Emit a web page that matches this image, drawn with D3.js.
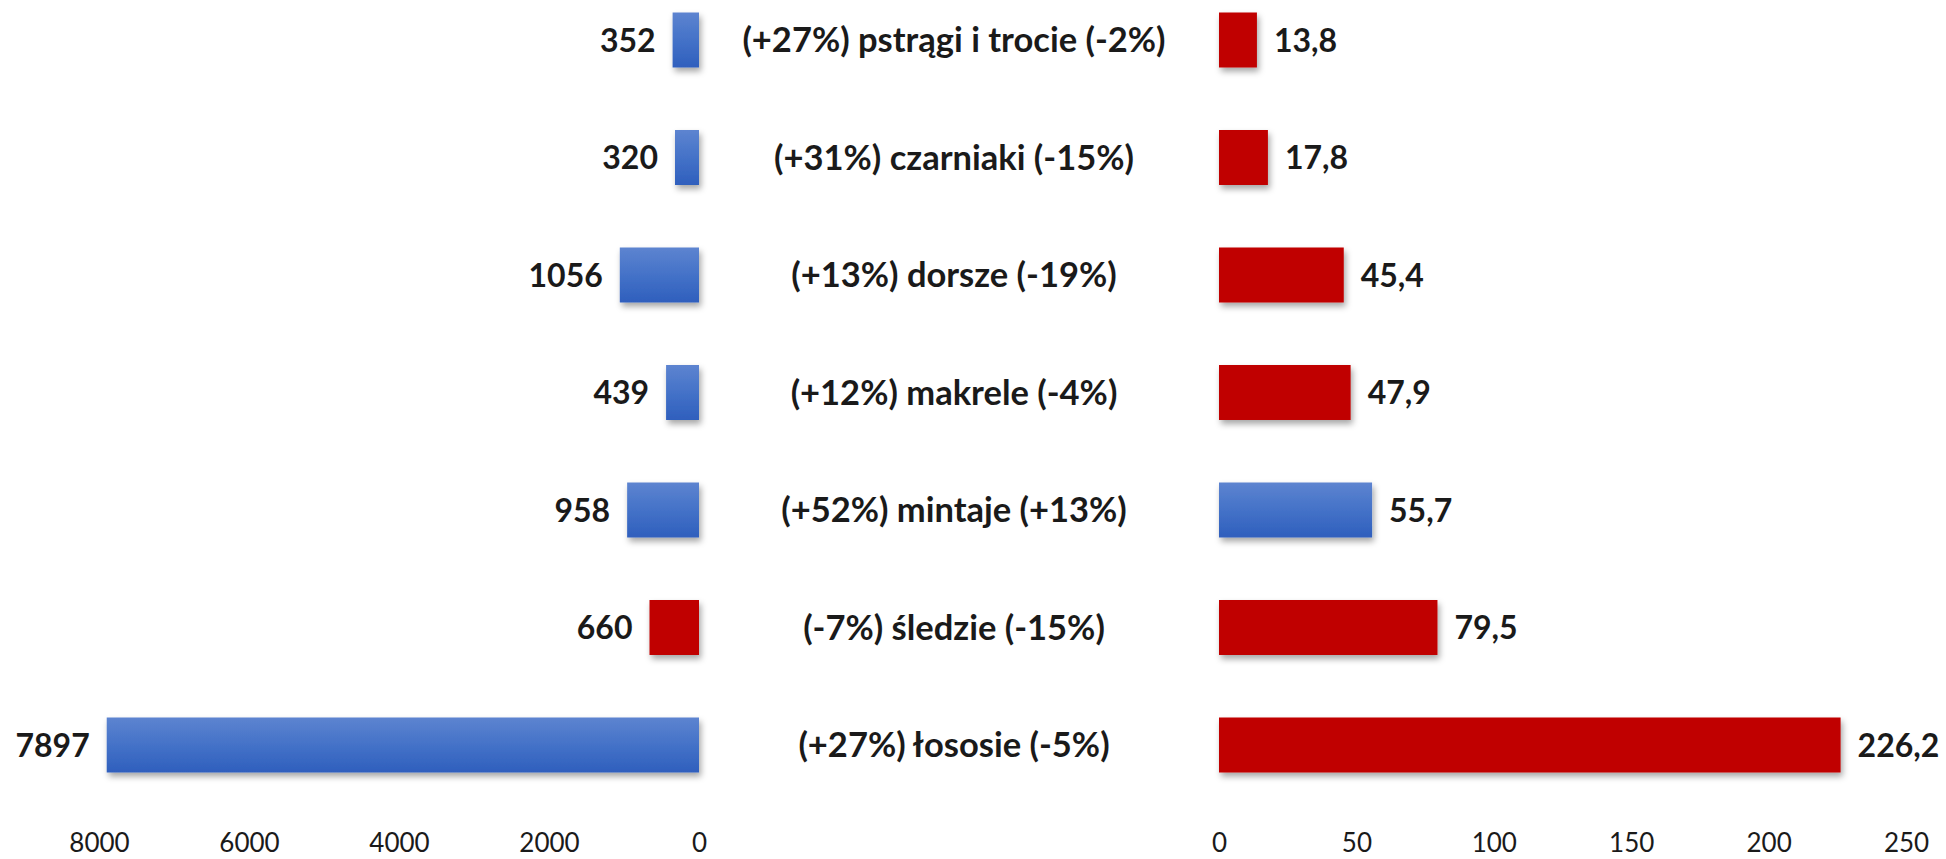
<!DOCTYPE html>
<html>
<head>
<meta charset="utf-8">
<script src="https://cdn.jsdelivr.net/npm/d3@7"></script>
<style>
  body { margin: 0; background: #fff; }
  svg { display: block; font-family: Lato, "Open Sans", sans-serif; }
  .axis .domain { display: none; }
  .axis text { font-size: 26px; fill: #1a1a1a; font-family: Lato, sans-serif; }
</style>
</head>
<body>
<svg id="chart"></svg>
<script>
// fish species, top to bottom
const categories = ["pstrągi i trocie", "czarniaki", "dorsze", "makrele", "mintaje", "śledzie", "łososie"];
// left: volume (tonnes), change in %
const volume = [352, 320, 1056, 439, 958, 660, 7897];
const volumeChange = [27, 31, 13, 12, 52, -7, 27];
// right: value (mln), change in %
const value = [13.8, 17.8, 45.4, 47.9, 55.7, 79.5, 226.2];
const valueChange = [-2, -15, -19, -4, 13, -15, -5];

const leftTicks = [8000, 6000, 4000, 2000, 0];
const rightTicks = [0, 50, 100, 150, 200, 250];

const W = 1946, H = 859;

var svg = d3.select("#chart")
  .attr("width", W)
  .attr("height", H);

var defs = svg.append("defs");

var grad = defs.append("linearGradient")
  .attr("id", "blueGrad")
  .attr("x1", 0).attr("y1", 0).attr("x2", 0).attr("y2", 1);
grad.append("stop").attr("offset", "0%").attr("stop-color", "#5d84d0");
grad.append("stop").attr("offset", "50%").attr("stop-color", "#4472c8");
grad.append("stop").attr("offset", "100%").attr("stop-color", "#2f5fbd");

var shadow = defs.append("filter")
  .attr("id", "shadow")
  .attr("x", "-10%").attr("y", "-20%").attr("width", "130%").attr("height", "160%");
shadow.append("feDropShadow")
  .attr("dx", 2).attr("dy", 4)
  .attr("stdDeviation", 3)
  .attr("flood-color", "#000")
  .attr("flood-opacity", 0.35);

// rows
var step = 117.5, firstTop = 12.5;
var y = d3.scaleBand()
  .domain(d3.range(categories.length))
  .paddingInner(0.532)
  .paddingOuter(0.266);
y.range([firstTop - step * 0.266, firstTop - step * 0.266 + step * categories.length]);

var xL = d3.scaleLinear().domain([0, 8000]).range([699, 99]);
var xR = d3.scaleLinear().domain([0, 250]).range([1219, 1906]);

var colorOf = c => c >= 0 ? "url(#blueGrad)" : "#c00000";
var fmt = v => d3.format(".1f")(v).replace(".", ",");
var pct = c => (c > 0 ? "+" : "") + c + "%";

var rows = categories.map((c, i) => ({
  i: i, name: c,
  vol: volume[i], volCh: volumeChange[i],
  val: value[i], valCh: valueChange[i]
}));

var bars = svg.append("g").attr("filter", "url(#shadow)");

bars.selectAll(".barL")
  .data(rows)
  .enter()
  .append("rect")
  .attr("class", "barL")
  .attr("x", d => xL(d.vol))
  .attr("y", d => y(d.i))
  .attr("width", d => xL(0) - xL(d.vol))
  .attr("height", y.bandwidth())
  .attr("fill", d => colorOf(d.volCh));

bars.selectAll(".barR")
  .data(rows)
  .enter()
  .append("rect")
  .attr("class", "barR")
  .attr("x", xR(0))
  .attr("y", d => y(d.i))
  .attr("width", d => xR(d.val) - xR(0))
  .attr("height", y.bandwidth())
  .attr("fill", d => colorOf(d.valCh));

var labels = svg.append("g")
  .style("font-weight", "bold")
  .style("font-size", "32px")
  .attr("fill", "#1a1a1a");

labels.selectAll(".lblL")
  .data(rows)
  .enter()
  .append("text")
  .attr("x", d => xL(d.vol) - 17)
  .attr("y", d => y(d.i) + y.bandwidth() / 2)
  .attr("dy", "0.36em")
  .attr("text-anchor", "end")
  .text(d => d.vol);

labels.selectAll(".lblR")
  .data(rows)
  .enter()
  .append("text")
  .attr("x", d => xR(d.val) + 17)
  .attr("y", d => y(d.i) + y.bandwidth() / 2)
  .attr("dy", "0.36em")
  .text(d => fmt(d.val));

labels.selectAll(".cat")
  .data(rows)
  .enter()
  .append("text")
  .style("font-size", "34.5px")
  .attr("x", (xL(0) + xR(0)) / 2 - 5)
  .attr("y", d => y(d.i) + y.bandwidth() / 2)
  .attr("dy", "0.36em")
  .attr("text-anchor", "middle")
  .text(d => "(" + pct(d.volCh) + ") " + d.name + " (" + pct(d.valCh) + ")");

// axes, no lines
var axisY = 834;
svg.append("g")
  .attr("class", "axis")
  .attr("transform", "translate(0," + axisY + ")")
  .call(d3.axisBottom(xL).tickValues(leftTicks).tickSize(0).tickPadding(0).tickFormat(d3.format("d")));

svg.append("g")
  .attr("class", "axis")
  .attr("transform", "translate(0," + axisY + ")")
  .call(d3.axisBottom(xR).tickValues(rightTicks).tickSize(0).tickPadding(0).tickFormat(d3.format("d")));
</script>
</body>
</html>
